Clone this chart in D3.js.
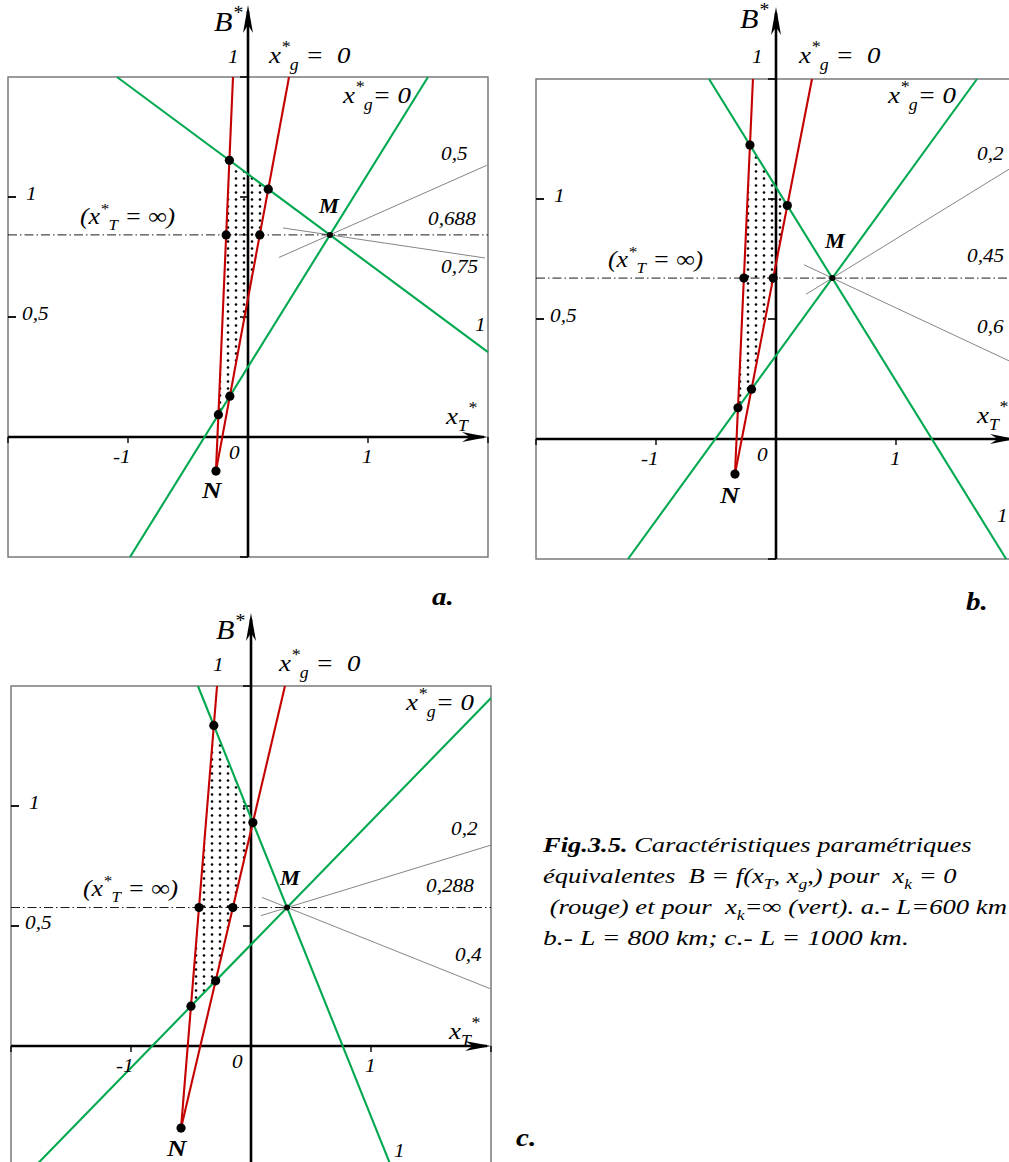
<!DOCTYPE html>
<html>
<head>
<meta charset="utf-8">
<script src="https://cdn.jsdelivr.net/npm/d3@7"></script>
<style>
  body { margin: 0; background: #fff; }
  svg { display: block; }
  text { font-family: "Liberation Serif", "Times New Roman", "DejaVu Serif", serif; font-style: italic; fill: #000; white-space: pre; }
</style>
</head>
<body>
<svg id="fig" width="1009" height="1162"></svg>
<script>
// ---- Data (x*_T on the horizontal axis, B* on the vertical axis) ----
const panelTags = ["a.", "b.", "c."];
const lengthsKm = [600, 800, 1000];

// x_k = 0 family (red): common node N and the upper ends of the x*_g = 1 and x*_g = 0 lines
const nodeN      = [[-0.267, -0.142], [-0.342, -0.146], [-0.583, -0.342]];
const redTopXg1  = [[-0.125, 1.5], [-0.192, 1.5], [-0.283, 1.5]];
const redTopXg0  = [[ 0.342, 1.5], [ 0.300, 1.5], [ 0.283, 1.5]];

// x_k = infinity family (green): x*_g = 1 and x*_g = 0 lines, end points
const greenXg1 = [
  [[-1.092, 1.5], [2.0, 0.354]],
  [[-0.558, 1.5], [1.918, -0.5]],
  [[-0.442, 1.5], [1.166, -0.5]]
];
const greenXg0 = [
  [[-0.983, -0.5], [1.5, 1.5]],
  [[-1.233, -0.5], [1.675, 1.5]],
  [[-1.797, -0.5], [2.0, 1.45]]
];

// thin rays through M (upper ray, horizontal ray, lower ray) and their x*_g values
const rayLabels = [["0,5", "0,688", "0,75"], ["0,2", "0,45", "0,6"], ["0,2", "0,288", "0,4"]];
const raysUpper = [
  [[0.258, 0.748], [1.99, 1.132]],
  [[0.25, 0.603], [2.0, 1.142]],
  [[0.081, 0.543], [2.0, 0.837]]
];
const raysLower = [
  [[0.292, 0.871], [1.975, 0.746]],
  [[0.233, 0.726], [2.0, 0.312]],
  [[0.092, 0.619], [1.992, 0.239]]
];

// axes
const xDomain = [-2, 2];
const bDomain = [-0.5, 1.5];
const xTicks = [-2, -1, 1, 2];
const xTickLabels = ["-1", "0", "1"];
const bTicks = [0.5, 1, 1.5, -0.5];
const bTickLabels = [["1", 1], ["0,5", 0.5]];

// ---- Layout ----
const origins = [[248, 437], [776, 439], [251, 1046]];
const yArrowTip = [5, 7, 613];
const tagPos = [[432, 605], [966, 610], [516, 1146]];
const RED = "#c40000", GREEN = "#00a84f";
const STRETCH = 1.12;

const svg = d3.select("#fig");
const defs = svg.append("defs");
const pat = defs.append("pattern").attr("id", "stipple")
  .attr("patternUnits", "userSpaceOnUse").attr("width", 8).attr("height", 7);
pat.append("circle").attr("cx", 4).attr("cy", 3.5).attr("r", 1.3).attr("fill", "#000");

function intersect(p, q) {
  const [[x1, y1], [x2, y2]] = p, [[x3, y3], [x4, y4]] = q;
  const d = (x1 - x2) * (y3 - y4) - (y1 - y2) * (x3 - x4);
  const a = x1 * y2 - y1 * x2, b = x3 * y4 - y3 * x4;
  return [(a * (x3 - x4) - (x1 - x2) * b) / d, (a * (y3 - y4) - (y1 - y2) * b) / d];
}

// text with superscript / subscript parts, slightly widened
function rich(g, x, y, parts, size, bold, sx) {
  const t = g.append("text").attr("x", 0).attr("y", 0)
    .attr("transform", `translate(${x},${y}) scale(${sx || STRETCH},1)`)
    .attr("xml:space", "preserve").style("font-size", size + "px");
  if (bold) t.style("font-weight", "bold");
  let shift = 0;
  parts.forEach(p => {
    const [str, kind, weight] = Array.isArray(p) ? p : [p, null];
    const target = kind === "sup" ? -0.45 * size : kind === "sub" ? 0.28 * size : 0;
    const ts = t.append("tspan").text(str).attr("dy", (target - shift).toFixed(2))
      .style("font-size", (kind ? size * 0.66 : size) + "px");
    if (weight) ts.style("font-weight", weight);
    shift = target;
  });
  return t;
}

const line = d3.line();

// label offsets from the origin (pixels)
const labelSets = [
  { Bstar: [-34, -406], top1: [-20, -374], xg0a: [21, -374], xg0b: [95, -334],
    rayU: [193, -277], M: [71, -224], rayH: [180, -212], rayL: [193, -164],
    green1: [227, -106], inf: [-168, -213], xT: [198, -13], N: [-46, 61] },
  { Bstar: [-36, -411], top1: [-24, -376], xg0a: [23, -376], xg0b: [112, -336],
    rayU: [201, -279], M: [49, -191], rayH: [191, -177], rayL: [201, -106],
    green1: [221, 83], inf: [-168, -172], xT: [201, -16], N: [-56, 64] },
  { Bstar: [-35, -407], top1: [-38, -375], xg0a: [28, -375], xg0b: [155, -336],
    rayU: [200, -211], M: [29, -161], rayH: [175, -154], rayL: [204, -85],
    green1: [143, 111], inf: [-168, -150], xT: [198, -7], N: [-84, 110] }
];
const xTickLabelDx = [[-135, 26], [-19, 22], [114, 26]];

origins.forEach((o, i) => {
  const [ox, oy] = o;
  const x = d3.scaleLinear().domain(xDomain).range([ox - 240, ox + 240]);
  const y = d3.scaleLinear().domain(bDomain).range([oy + 120, oy - 360]);
  const P = d => [x(d[0]), y(d[1])];
  const g = svg.append("g");

  // frame
  g.append("rect").attr("x", x(-2)).attr("y", y(1.5))
    .attr("width", x(2) - x(-2)).attr("height", y(-0.5) - y(1.5))
    .attr("fill", "none").attr("stroke", "#707070").attr("stroke-width", 1.4);

  // lines of the panel
  const red1 = [nodeN[i], redTopXg1[i]];
  const red2 = [nodeN[i], redTopXg0[i]];
  const g1 = greenXg1[i], g0 = greenXg0[i];
  const M = intersect(g1, g0);
  const hLine = [[-2, M[1]], [2, M[1]]];

  // stippled domain between the two families
  const quad = [intersect(red1, g1), intersect(red2, g1), intersect(red2, g0), intersect(red1, g0)];
  g.append("path").attr("d", line(quad.map(P)) + "Z").attr("fill", "url(#stipple)");

  // thin rays through M
  [raysUpper[i], raysLower[i]].forEach(r => {
    g.append("path").attr("d", line(r.map(P))).attr("fill", "none")
      .attr("stroke", "#666").attr("stroke-width", 0.8);
  });
  // horizontal ray (x*_T = infinity)
  g.append("path").attr("d", line(hLine.map(P))).attr("fill", "none")
    .attr("stroke", "#000").attr("stroke-width", 0.9).attr("stroke-dasharray", "9,3,1.5,3");

  // frame ticks on the left border
  [0.5, 1].forEach(b => {
    g.append("line").attr("x1", x(-2)).attr("x2", x(-2) + 8).attr("y1", y(b)).attr("y2", y(b))
      .attr("stroke", "#000").attr("stroke-width", 1.8);
  });

  // axes
  const ax = g.append("g").attr("stroke", "#000").attr("fill", "none");
  ax.append("line").attr("x1", x(-2)).attr("x2", x(2) - 4).attr("y1", y(0)).attr("y2", y(0)).attr("stroke-width", 2.6);
  ax.append("line").attr("x1", x(0)).attr("x2", x(0)).attr("y1", y(-0.5)).attr("y2", yArrowTip[i] + 6).attr("stroke-width", 2.6);
  xTicks.forEach(t => ax.append("line").attr("x1", x(t)).attr("x2", x(t))
    .attr("y1", y(0)).attr("y2", y(0) + 6).attr("stroke-width", 1.4));
  bTicks.forEach(t => ax.append("line").attr("x1", x(0) - 8).attr("x2", x(0))
    .attr("y1", y(t)).attr("y2", y(t)).attr("stroke-width", 1.6));
  // arrowheads
  const tx = yArrowTip[i];
  g.append("path").attr("d", `M${x(0)},${tx} L${x(0) - 5},${tx + 28} L${x(0)},${tx + 20} L${x(0) + 5},${tx + 28} Z`).attr("fill", "#000");
  const ex = x(2), ey = y(0);
  g.append("path").attr("d", `M${ex},${ey} L${ex - 26},${ey - 5} L${ex - 18},${ey} L${ex - 26},${ey + 5} Z`).attr("fill", "#000");

  // green family
  [g1, g0].forEach(l => g.append("path").attr("d", line(l.map(P))).attr("fill", "none")
    .attr("stroke", GREEN).attr("stroke-width", 2.1));
  // red family
  [red1, red2].forEach(l => g.append("path").attr("d", line(l.map(P))).attr("fill", "none")
    .attr("stroke", RED).attr("stroke-width", 2.1));

  // intersection points
  const pts = [intersect(red1, g1), intersect(red2, g1), intersect(red1, hLine), intersect(red2, hLine),
               intersect(red1, g0), intersect(red2, g0), nodeN[i]];
  g.selectAll(null).data(pts).join("circle")
    .attr("cx", d => x(d[0])).attr("cy", d => y(d[1])).attr("r", 4.6).attr("fill", "#000");
  g.append("circle").attr("cx", x(M[0])).attr("cy", y(M[1])).attr("r", 3).attr("fill", "#000");

  // labels
  const L = labelSets[i];
  const at = k => [ox + L[k][0], oy + L[k][1]];
  rich(g, ...at("Bstar"), ["B", ["*", "sup"]], 27);
  rich(g, ...at("top1"), ["1"], 19);
  rich(g, ...at("xg0a"), ["x", ["*", "sup"], ["g", "sub"], " =  0"], 24);
  rich(g, ...at("xg0b"), ["x", ["*", "sup"], ["g", "sub"], "= 0"], 24);
  rich(g, ...at("rayU"), [rayLabels[i][0]], 19);
  rich(g, ...at("rayH"), [rayLabels[i][1]], 19);
  rich(g, ...at("rayL"), [rayLabels[i][2]], 19);
  rich(g, ...at("M"), ["M"], 20, true);
  rich(g, ...at("green1"), ["1"], 19);
  rich(g, ...at("inf"), ["(x", ["*", "sup"], ["T", "sub"], " = \u221E)"], 23);
  rich(g, ...at("xT"), ["x", ["T", "sub"], ["*", "sup"]], 24);
  rich(g, ...at("N"), ["N"], 24, true);
  bTickLabels.forEach(([s, b]) => rich(g, x(-2) + (s.length > 1 ? 14 : 18), y(b) + 3, [s], 19));
  xTickLabels.forEach((s, k) => rich(g, ox + xTickLabelDx[k][0], oy + xTickLabelDx[k][1], [s], 19));
  rich(g, tagPos[i][0], tagPos[i][1], [panelTags[i]], 26, true);
});

// caption, each line widened to its measured extent
const cap = svg.append("g");
const capX = 543, capSize = 21.5;
const capLines = [
  { y: 852, w: 430, parts: [["Fig.3.5.", null, "bold"], " Caract\u00E9ristiques param\u00E9triques"] },
  { y: 883, w: 414, parts: ["\u00E9quivalentes  B = f(x", ["T", "sub"], ", x", ["g", "sub"], ",) pour  x", ["k", "sub"], " = 0"] },
  { y: 914, w: 464, parts: [" (rouge) et pour  x", ["k", "sub"], "=\u221E (vert). a.- L=" + lengthsKm[0] + " km"] },
  { y: 945, w: 366, parts: ["b.- L = " + lengthsKm[1] + " km; c.- L = " + lengthsKm[2] + " km."] }
];
capLines.forEach(c => {
  const t = rich(cap, capX, c.y, c.parts, capSize, false, 1);
  const w = t.node().getBBox().width;
  t.attr("transform", `translate(${capX},${c.y}) scale(${c.w / w},1)`);
});
</script>
</body>
</html>
